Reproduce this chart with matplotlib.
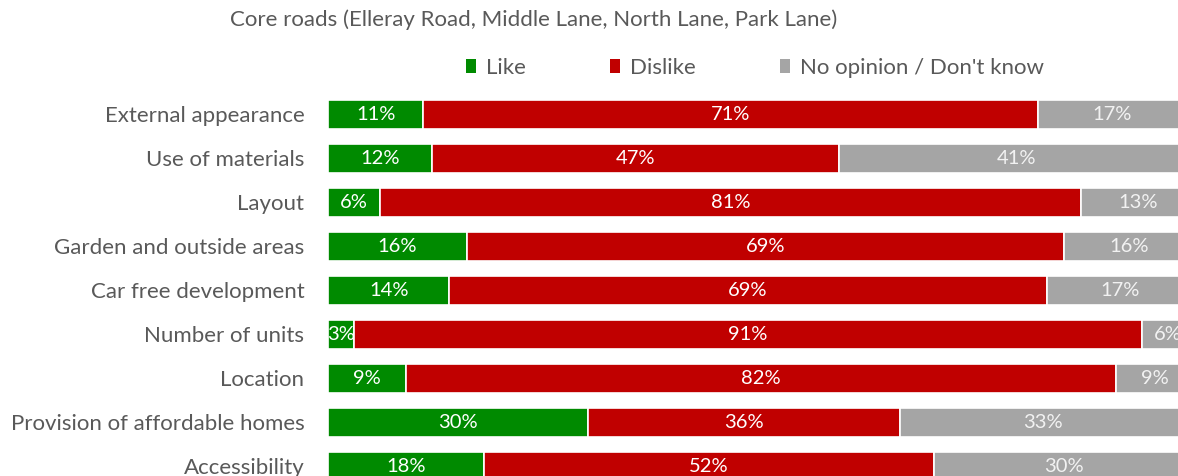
import matplotlib.pyplot as plt
from matplotlib.patches import Patch

categories = [
    "External appearance",
    "Use of materials",
    "Layout",
    "Garden and outside areas",
    "Car free development",
    "Number of units",
    "Location",
    "Provision of affordable homes",
    "Accessibility",
]
like = [11, 12, 6, 16, 14, 3, 9, 30, 18]
dislike = [71, 47, 81, 69, 69, 91, 82, 36, 52]
no_opinion = [17, 41, 13, 16, 17, 6, 9, 33, 30]

series_names = ["Like", "Dislike", "No opinion / Don't know"]
colors = ["#008A00", "#C00000", "#A5A5A5"]
label_colors = ["white", "white", "#F2F2F2"]

TEXT = "#595959"
plt.rcParams["font.family"] = ["Lato", "DejaVu Sans"]


def main():
    fig = plt.figure(figsize=(11.78, 4.76), dpi=100)
    W, H = 1178, 476
    # axes extends past the right and bottom edges (the source image is cropped)
    left, right = 328, 1194
    top, bottom = 92.5, 532.5
    ax = fig.add_axes([left / W, 1 - bottom / H, (right - left) / W, (bottom - top) / H])

    ypos = list(range(len(categories)))
    start = [0] * len(categories)
    for vals, name, col, lcol in zip([like, dislike, no_opinion], series_names, colors, label_colors):
        bars = ax.barh(ypos, vals, left=start, height=0.64, color=col,
                       edgecolor="white", linewidth=1.2, label=name)
        texts = ax.bar_label(bars, labels=[f"{v}%" for v in vals], label_type="center",
                             color=lcol, fontsize=14.5)
        for t in texts:
            t.set_clip_on(True)
        start = [s + v for s, v in zip(start, vals)]

    ax.set_xlim(0, 100)
    ax.set_ylim(9.5, -0.5)
    ax.set_yticks(ypos)
    ax.set_yticklabels(categories, fontsize=16, color=TEXT)
    ax.tick_params(axis="y", length=0, pad=17)
    ax.set_xticks([])
    for s in ax.spines.values():
        s.set_visible(False)

    fig.text(534 / W, 1 - 20 / H, "Core roads (Elleray Road, Middle Lane, North Lane, Park Lane)",
             ha="center", va="center", fontsize=16, color=TEXT)

    handles = [Patch(facecolor=c, edgecolor="none") for c in colors]
    fig.legend(handles, series_names, loc="center", bbox_to_anchor=(755 / W, 1 - 68 / H),
               ncol=3, frameon=False, fontsize=16, labelcolor=TEXT,
               handlelength=0.45, handleheight=0.55, handletextpad=0.45, columnspacing=3.8)

    fig.savefig("out.png", dpi=100)


if __name__ == "__main__":
    main()
